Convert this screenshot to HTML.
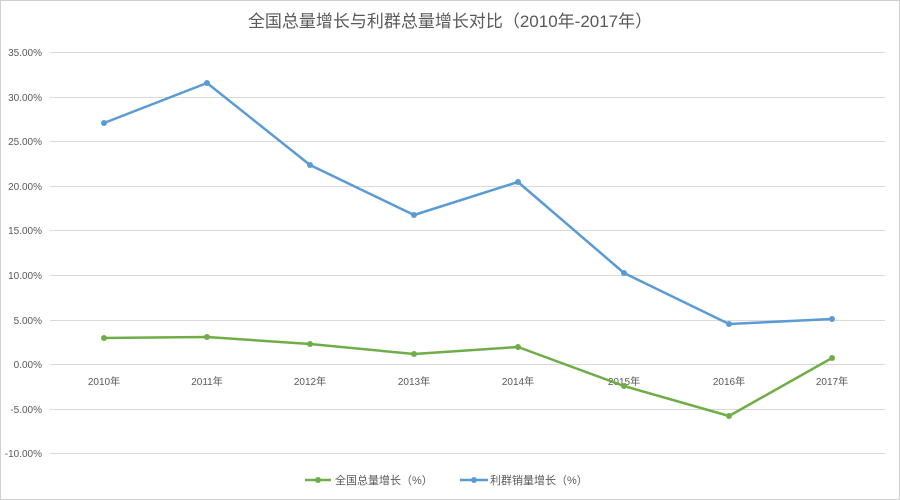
<!DOCTYPE html>
<html><head><meta charset="utf-8"><style>
html,body{margin:0;padding:0;background:#fff;}
svg{display:block;font-family:"Liberation Sans","Noto Sans CJK SC",sans-serif;}
</style></head><body>
<svg width="900" height="500" viewBox="0 0 900 500">
<rect x="0.5" y="0.5" width="899" height="499" fill="#fff" stroke="#d0d0d0"/>
<text x="450" y="27" text-anchor="middle" font-size="17" fill="#595959">全国总量增长与利群总量增长对比（2010年-2017年）</text>
<g stroke="#d9d9d9" stroke-width="1">
<line x1="50" x2="885" y1="52.5" y2="52.5"/>
<line x1="50" x2="885" y1="97.5" y2="97.5"/>
<line x1="50" x2="885" y1="141.5" y2="141.5"/>
<line x1="50" x2="885" y1="186.5" y2="186.5"/>
<line x1="50" x2="885" y1="230.5" y2="230.5"/>
<line x1="50" x2="885" y1="275.5" y2="275.5"/>
<line x1="50" x2="885" y1="320.5" y2="320.5"/>
<line x1="50" x2="885" y1="364.5" y2="364.5"/>
<line x1="50" x2="885" y1="409.5" y2="409.5"/>
<line x1="50" x2="885" y1="453.5" y2="453.5"/>
</g>
<g font-size="10" fill="#595959" text-anchor="end">
<text x="42" y="56">35.00%</text>
<text x="42" y="101">30.00%</text>
<text x="42" y="145">25.00%</text>
<text x="42" y="190">20.00%</text>
<text x="42" y="234">15.00%</text>
<text x="42" y="279">10.00%</text>
<text x="42" y="324">5.00%</text>
<text x="42" y="368">0.00%</text>
<text x="42" y="413">-5.00%</text>
<text x="42" y="457">-10.00%</text>
</g>
<g font-size="10" fill="#595959" text-anchor="middle">
<text x="104" y="385">2010年</text>
<text x="207" y="385">2011年</text>
<text x="310" y="385">2012年</text>
<text x="414" y="385">2013年</text>
<text x="518" y="385">2014年</text>
<text x="624" y="385">2015年</text>
<text x="729" y="385">2016年</text>
<text x="832" y="385">2017年</text>
</g>
<polyline fill="none" stroke="#5b9bd5" stroke-width="2.5" stroke-linejoin="round" points="104,123 207,83 310,165 414,215 518,182 624,273 729,324 832,319"/>
<g fill="#5b9bd5">
<circle cx="104" cy="123" r="3"/><circle cx="207" cy="83" r="3"/><circle cx="310" cy="165" r="3"/><circle cx="414" cy="215" r="3"/><circle cx="518" cy="182" r="3"/><circle cx="624" cy="273" r="3"/><circle cx="729" cy="324" r="3"/><circle cx="832" cy="319" r="3"/>
</g>
<polyline fill="none" stroke="#70ad47" stroke-width="2.5" stroke-linejoin="round" points="104,338 207,337 310,344 414,354 518,347 624,386 729,416 832,358"/>
<g fill="#70ad47">
<circle cx="104" cy="338" r="3"/><circle cx="207" cy="337" r="3"/><circle cx="310" cy="344" r="3"/><circle cx="414" cy="354" r="3"/><circle cx="518" cy="347" r="3"/><circle cx="624" cy="386" r="3"/><circle cx="729" cy="416" r="3"/><circle cx="832" cy="358" r="3"/>
</g>
<line x1="305" x2="331" y1="480" y2="480" stroke="#70ad47" stroke-width="2.5"/>
<circle cx="318" cy="480" r="3" fill="#70ad47"/>
<text x="335" y="484" font-size="11" fill="#595959">全国总量增长（%）</text>
<line x1="460" x2="488" y1="480" y2="480" stroke="#5b9bd5" stroke-width="2.5"/>
<circle cx="474" cy="480" r="3" fill="#5b9bd5"/>
<text x="490" y="484" font-size="11" fill="#595959">利群销量增长（%）</text>
</svg>
</body></html>
